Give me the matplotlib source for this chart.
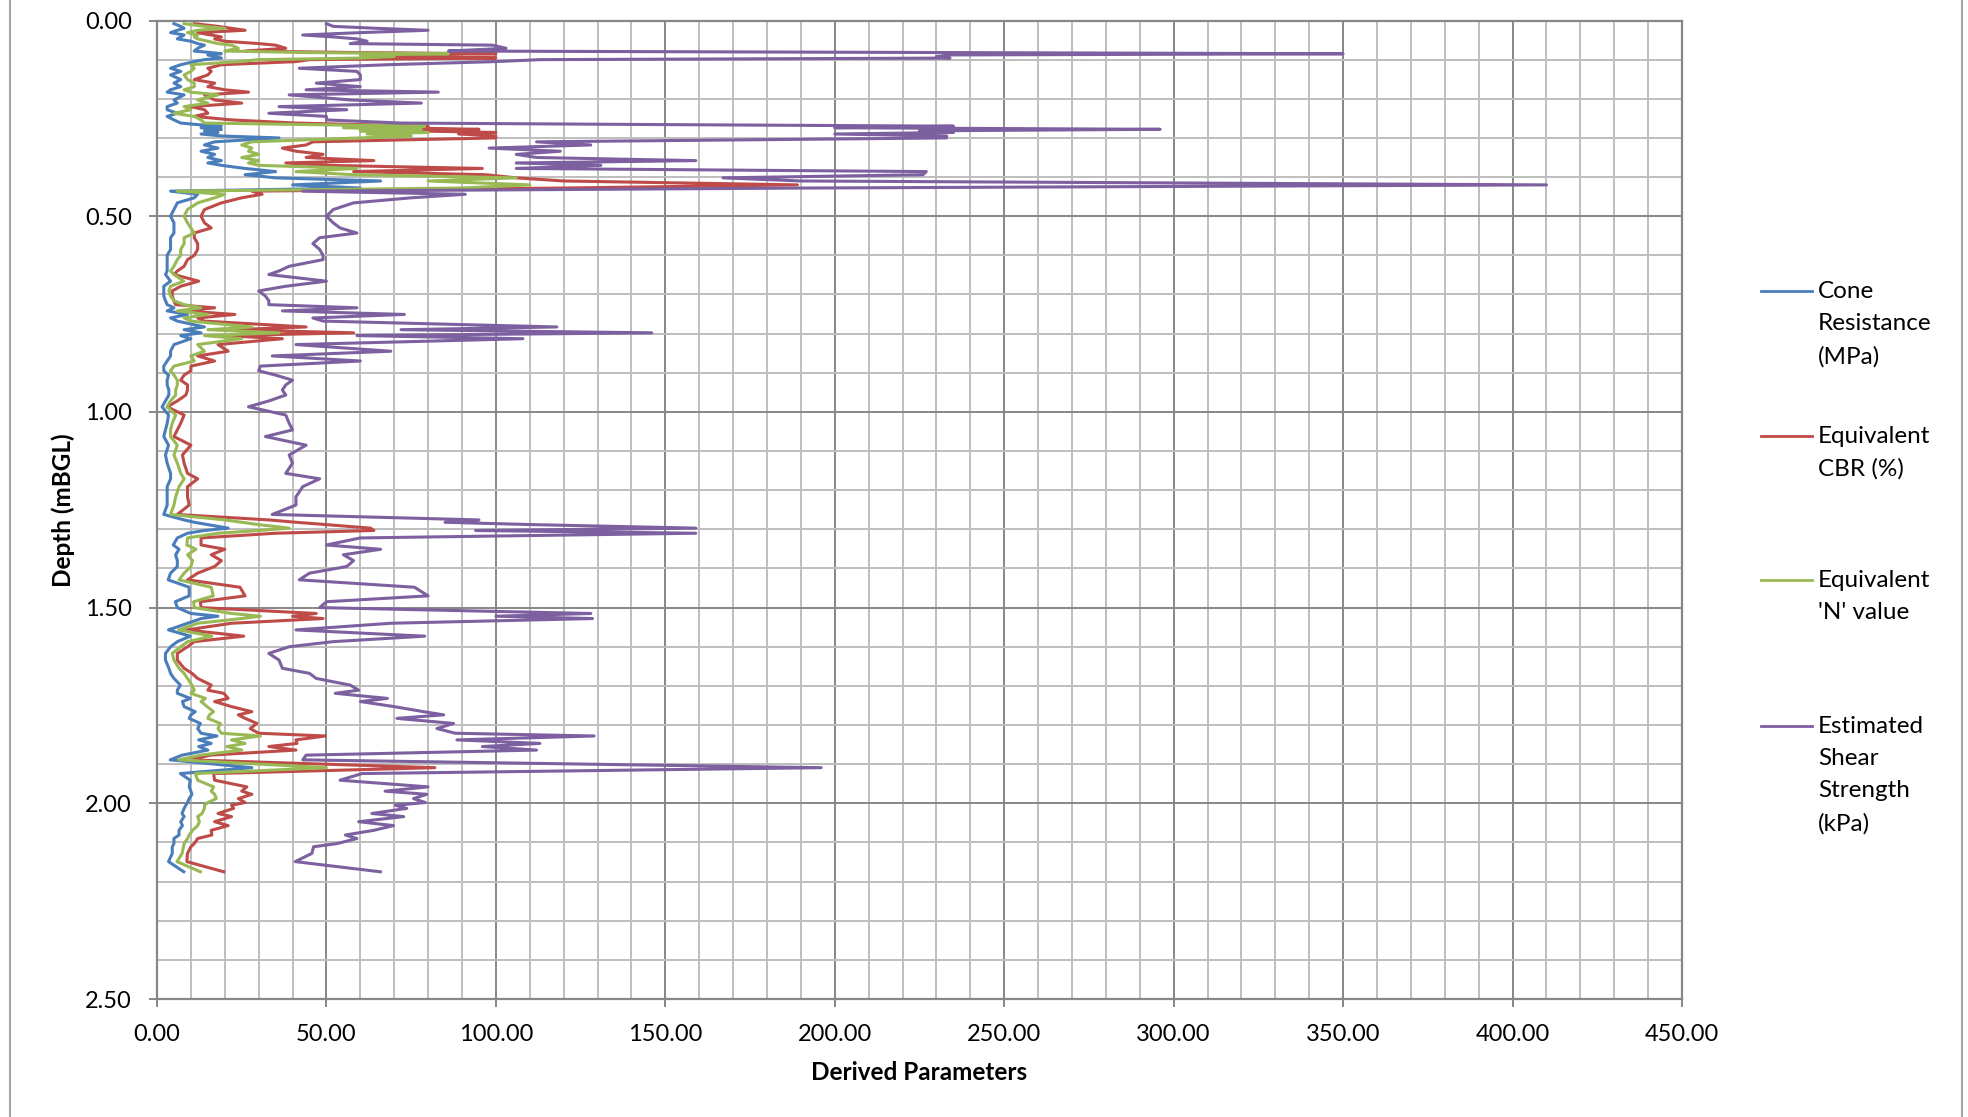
import matplotlib

matplotlib.use("Agg")
import matplotlib.pyplot as plt
from matplotlib.lines import Line2D
from matplotlib.ticker import FormatStrFormatter, MultipleLocator


OUTPUT = "out.png"
FONT = ["Lato", "DejaVu Sans"]

# depth below ground level (m), shared by all four series
depth = [
    0.008, 0.015, 0.020, 0.025, 0.031, 0.037, 0.042, 0.047, 0.053, 0.059,
    0.063, 0.071, 0.078, 0.082, 0.085, 0.088, 0.092, 0.096, 0.100, 0.105,
    0.113, 0.122, 0.130, 0.139, 0.151, 0.160, 0.169, 0.177, 0.183, 0.190,
    0.203, 0.211, 0.220, 0.228, 0.237, 0.245, 0.254, 0.262,
    0.266, 0.270, 0.274, 0.278, 0.282, 0.286, 0.290, 0.295, 0.300,
    0.310, 0.318, 0.326, 0.334, 0.342, 0.350, 0.358, 0.364, 0.370, 0.378,
    0.386, 0.394, 0.402, 0.410, 0.420, 0.428, 0.436, 0.444,
    0.453, 0.466, 0.483, 0.500, 0.517, 0.530, 0.543, 0.555, 0.570, 0.585,
    0.600, 0.611, 0.628, 0.640, 0.649, 0.666, 0.679, 0.691, 0.704, 0.716,
    0.726, 0.734, 0.742, 0.751, 0.760, 0.768, 0.783, 0.790, 0.798, 0.805,
    0.813, 0.828, 0.845, 0.857, 0.870, 0.883,
    0.895, 0.906, 0.919, 0.931, 0.944, 0.957, 0.972, 0.987, 1.008, 1.029,
    1.046, 1.063, 1.085, 1.110, 1.131, 1.157, 1.171, 1.191, 1.217, 1.238,
    1.262, 1.276, 1.282, 1.288, 1.297, 1.303, 1.310, 1.322, 1.340, 1.351,
    1.365, 1.380, 1.395, 1.412, 1.429, 1.448, 1.470,
    1.485, 1.500, 1.515, 1.522, 1.528, 1.540, 1.557, 1.573, 1.587, 1.600,
    1.617, 1.634, 1.655, 1.668, 1.681, 1.698, 1.711, 1.719, 1.732, 1.740,
    1.753, 1.766, 1.774, 1.783, 1.796, 1.809, 1.821, 1.828, 1.838, 1.847,
    1.855, 1.864, 1.877, 1.889, 1.909,
    1.924, 1.941, 1.958, 1.969, 1.977, 1.988, 1.998, 2.005, 2.013, 2.026,
    2.034, 2.047, 2.057, 2.069, 2.081, 2.090, 2.103, 2.111, 2.128, 2.149,
    2.175,
]

cone_resistance = [
    5, 7, 8, 6, 4, 8, 7, 6, 10, 12,
    14, 12, 11, 16, 19, 15, 17, 19, 14, 11,
    7, 4, 7, 4, 7, 5, 7, 4, 3, 8,
    5, 6, 3, 3, 6, 3, 5, 7,
    12, 19, 13, 19, 14, 18, 13, 19, 36,
    17, 14, 18, 13, 17, 15, 19, 15, 19, 26,
    35, 26, 35, 66, 40, 60, 4, 12,
    11, 6, 5, 4, 5, 5, 5, 4, 4, 4,
    3, 3, 3, 3, 2.5, 4, 2, 2, 2, 2.5,
    3, 5, 3, 9, 4, 6, 14, 8, 13, 7,
    10, 5, 4, 4, 3, 2,
    2, 3.4, 3, 3, 3.5, 3.5, 2.5, 1.5, 3.4, 3,
    2.5, 2, 3.4, 2.5, 3, 4, 4, 3, 3, 3,
    2, 8, 11, 15, 21, 14, 9, 6, 4.8, 6.5,
    5.5, 6, 6, 4, 3.3, 9.5, 9.5,
    5.4, 6, 10, 18, 13, 9, 3.4, 9.8, 6, 4,
    2.5, 2.5, 3.5, 4, 5, 6.9, 6, 6, 9.8, 7.5,
    8, 11.3, 10, 9.5, 12.8, 12, 13, 17.7, 12.3, 16,
    12.3, 15, 7.4, 3.9, 28,
    6.9, 9.8, 9.5, 10, 10.3, 9.5, 9, 8.5, 8, 7.4,
    8, 7, 7.5, 6.5, 6.5, 5, 5, 4.5, 4.5, 3.4,
    7.9,
]

cbr = [
    11, 18, 22, 26, 12, 16, 19, 17, 20, 30,
    35, 38, 26, 60, 100, 62, 75, 100, 45, 41,
    19, 15, 16, 15, 11, 17, 15, 20, 27, 14,
    17, 25, 10, 14, 15, 11, 22, 41,
    60, 80, 70, 95, 75, 100, 89, 100, 100,
    46, 44, 37, 41, 49, 44, 64, 38, 50, 96,
    58, 97, 106, 120, 189, 120, 28, 31,
    25, 19, 14, 13, 14, 16, 11, 11, 12, 12,
    11, 9, 8, 6, 5, 12.3, 7, 4.5, 4.5, 5,
    5.5, 17, 8, 23, 12, 14, 44, 22, 58, 20,
    37, 18, 21, 12, 17, 10,
    10, 8, 7, 9, 9, 8.5, 6, 3, 8, 7,
    6, 5, 10, 7.5, 8, 9, 12, 9, 9, 9.5,
    6, 33, 41, 50, 63, 64, 35, 13, 13, 20,
    16, 19, 17, 12, 9, 24.5, 26,
    12.8, 13, 47, 40, 49, 22, 8.8, 25.6, 11, 9,
    6, 6, 8, 10.3, 12, 16, 15, 19.7, 21, 17,
    22, 28, 24, 26, 29.5, 27.5, 30, 49.7, 41, 41.3,
    33, 41, 15.7, 9.8, 82,
    16.7, 17, 26.5, 25, 28, 24, 26, 22, 22.6, 18,
    22, 17, 21, 16, 16.2, 12, 11, 10, 9, 8.8,
    19.7,
]

n_value = [
    8, 14, 20, 12, 9, 12, 11, 12, 15, 18,
    22, 24, 20, 45, 86, 60, 70, 60, 30, 24,
    10, 11, 10, 8, 9, 11, 11, 8, 10, 18,
    12, 15, 8, 10, 5, 11, 13, 14,
    45, 79, 55, 78, 60, 80, 62, 75, 60,
    28, 25, 28, 27, 30, 25, 30, 27, 30, 59,
    41, 58, 106, 80, 110, 90, 6, 20,
    17, 12, 9, 8, 9, 10, 11, 8, 8, 7,
    7, 6, 5, 4, 5, 7.9, 4, 3.5, 4, 5,
    8, 13, 6, 15, 8, 10, 28, 15, 36, 14,
    25, 12, 14, 10, 11, 5,
    4, 5, 6, 6, 5.5, 5.5, 4, 3, 5.5, 4.5,
    4, 4, 6, 5, 6, 7, 8, 6.5, 5.5, 5,
    4, 20, 25, 30, 39, 30, 18, 9, 8.8, 11.5,
    9, 10.5, 10, 8, 6.5, 16, 16.6,
    10.8, 11, 22, 30.5, 25, 12, 6.4, 16.2, 9, 7,
    4.5, 5, 6.5, 8, 9, 10.3, 11, 10, 14.3, 13,
    14.8, 16.7, 15.5, 15, 18.7, 18, 19, 30.5, 22, 26,
    20.6, 25, 12.8, 6.4, 50,
    11.3, 12, 16.7, 16, 17, 17.5, 15, 14, 14, 13.3,
    12, 12.5, 12, 10.5, 9.5, 9, 8, 7.8, 7.4, 5.9,
    12.8,
]

shear_strength = [
    50, 52, 65, 80, 60, 43, 52, 59, 62, 57,
    99, 103, 86, 234, 350, 234, 230, 234, 113, 100,
    68, 42, 59, 60, 60, 47, 60, 44, 83, 39,
    57, 78, 36, 56, 33, 50, 50, 72,
    150, 235, 200, 296, 225, 235, 200, 233, 233,
    112, 128, 98, 119, 106, 112, 159, 106, 131, 106,
    227, 226, 167, 190, 410, 192, 43, 91,
    75, 58, 52, 50, 52, 54, 59, 48, 46, 48,
    49, 49, 39, 36, 33, 50, 38, 30, 32, 33,
    33, 59, 37, 73, 46, 49, 118, 72, 146, 59,
    108, 41, 69, 34, 60, 30.5,
    30, 35, 40, 38, 37, 38, 33, 27, 38, 39,
    40, 32, 44, 39, 40, 38, 48, 43, 41, 41,
    34, 95, 85, 111, 159, 94, 159, 60, 50, 66,
    55, 58, 56, 45, 42, 76, 80,
    50, 48, 128, 100, 128.5, 69, 41, 79, 52, 39,
    33, 36, 37, 45, 47, 57, 59.5, 52.6, 68, 60,
    70, 78.7, 84.6, 70.8, 87.5, 82.6, 88, 129, 88.5, 113,
    96, 112, 44, 43, 196,
    60.5, 54, 80, 67.3, 79.6, 75.7, 79.2, 70.3, 73.7, 63.4,
    72.8, 59.5, 69.8, 64, 55.6, 59, 53.1, 46.2, 45.7, 40.8,
    65.9,
]

labels = [
    "Cone\nResistance\n(MPa)",
    "Equivalent\nCBR (%)",
    "Equivalent\n'N' value",
    "Estimated\nShear\nStrength\n(kPa)",
]
colors = ["#4A7EBB", "#BE4B48", "#98B954", "#7D60A0"]


def main():
    series = [cone_resistance, cbr, n_value, shear_strength]
    for s in series:
        assert len(s) == len(depth)

    plt.rcParams["font.family"] = FONT
    W, H = 1968, 1117
    fig = plt.figure(figsize=(W / 100, H / 100), dpi=100)
    left, right, top, bottom = 157, 1682, 20.5, 999
    ax = fig.add_axes([left / W, 1 - bottom / H, (right - left) / W, (bottom - top) / H])

    for values, color, label in zip(series, colors, labels):
        ax.plot(values, depth, color=color, linewidth=2.2, label=label, solid_joinstyle="round")

    ax.set_xlim(0, 450)
    ax.set_ylim(2.5, 0)
    ax.xaxis.set_major_locator(MultipleLocator(50))
    ax.xaxis.set_minor_locator(MultipleLocator(10))
    ax.yaxis.set_major_locator(MultipleLocator(0.5))
    ax.yaxis.set_minor_locator(MultipleLocator(0.1))
    ax.xaxis.set_major_formatter(FormatStrFormatter("%.2f"))
    ax.yaxis.set_major_formatter(FormatStrFormatter("%.2f"))

    ax.set_axisbelow(True)
    ax.grid(which="minor", color="#BEBEBE", linewidth=1.4)
    ax.grid(which="major", color="#878787", linewidth=1.4)
    for spine in ax.spines.values():
        spine.set_color("#878787")
        spine.set_linewidth(1.6)

    ax.tick_params(which="major", direction="out", length=6, width=1.4, color="#878787",
                   labelsize=17, pad=12)
    ax.tick_params(which="minor", length=0)

    ax.set_xlabel("Derived Parameters", fontsize=17.5, fontweight="bold", va="center")
    ax.xaxis.set_label_coords(0.5, (bottom - 1073) / (bottom - top))
    ax.set_ylabel("Depth (mBGL)", fontsize=17.5, fontweight="bold", va="center")
    ax.yaxis.set_label_coords((63 - left) / (right - left), 0.5)

    # legend drawn to the right of the plot, one block per series
    handle_y = [291, 436, 580, 726]
    for y, color, label in zip(handle_y, colors, labels):
        fig.add_artist(Line2D([1761 / W, 1812 / W], [1 - y / H, 1 - y / H],
                              color=color, linewidth=2.0))
        fig.text(1818 / W, 1 - (y - 10) / H, label, fontsize=17.5, va="top", ha="left",
                 linespacing=1.66)

    # chart frame edges
    for x in (10, 1962):
        fig.add_artist(Line2D([x / W, x / W], [0, 1], color="#A6A6A6", linewidth=1.5))

    fig.savefig(OUTPUT, dpi=100)
    plt.close(fig)


if __name__ == "__main__":
    main()
